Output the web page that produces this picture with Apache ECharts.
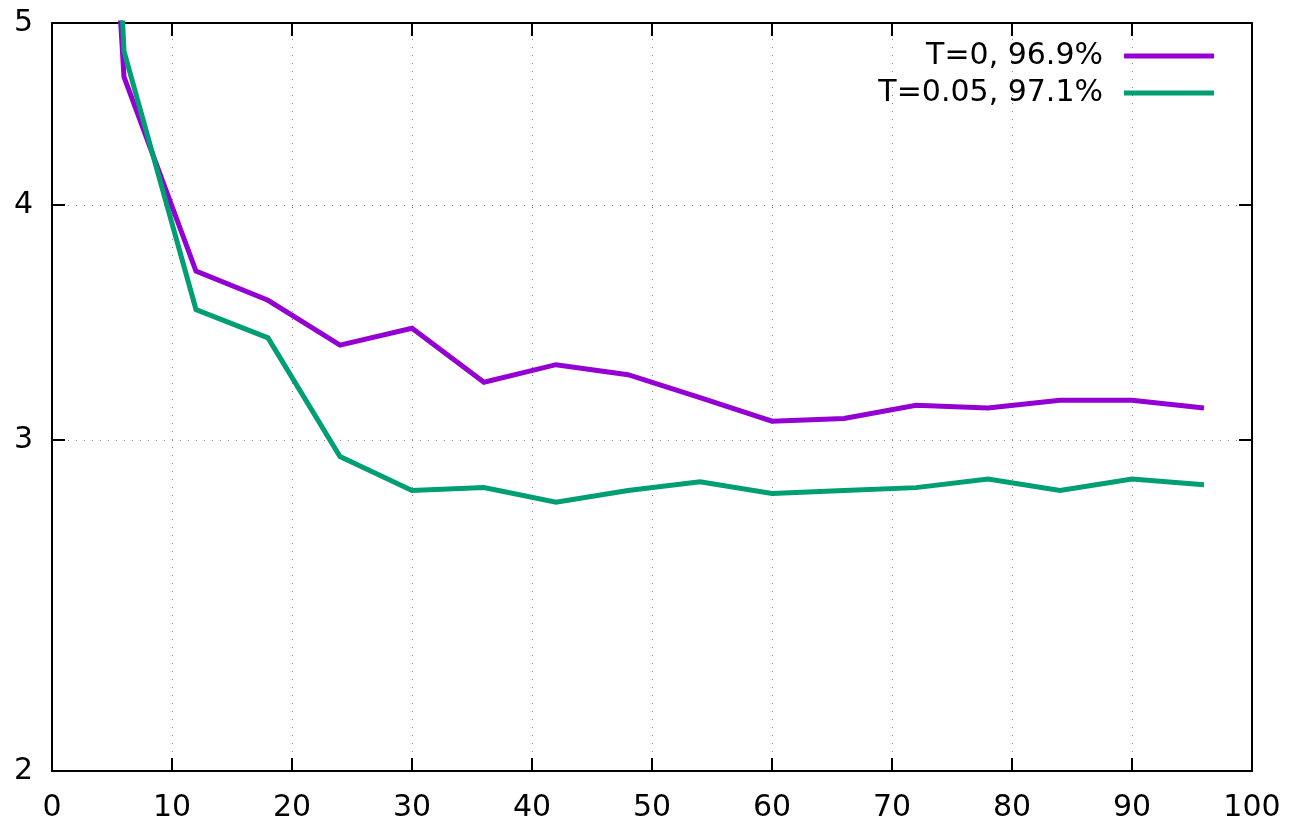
<!DOCTYPE html>
<html>
<head>
<meta charset="utf-8">
<title>Loss vs steps</title>
<script src="https://cdn.jsdelivr.net/npm/echarts@6/dist/echarts.min.js"></script>
<style>
  html, body { margin: 0; padding: 0; background: #fff; }
  #chart { width: 1289px; height: 825px; }
</style>
</head>
<body>
<div id="chart"></div>
<script>
// Sample positions along the x axis
const steps = [0, 6, 12, 18, 24, 30, 36, 42, 48, 54, 60, 66, 72, 78, 84, 90, 96];

// Values for each run (log-scaled y axis)
const lossT0 = [20, 4.68, 3.69, 3.56, 3.37, 3.44, 3.22, 3.29, 3.25, 3.16, 3.07, 3.08, 3.13, 3.12, 3.15, 3.15, 3.12];
const lossT005 = [30, 4.83, 3.52, 3.40, 2.94, 2.82, 2.83, 2.78, 2.82, 2.85, 2.81, 2.82, 2.83, 2.86, 2.82, 2.86, 2.84];

const seriesNames = ['T=0, 96.9%', 'T=0.05, 97.1%'];
const seriesColors = ['#9400d3', '#009e73'];

// Tick labels
const yTicks = [2, 3, 4, 5];
const xMin = 0, xMax = 100, xStep = 10;

const FONT = 'DejaVu Sans';
const LINE_W = 5;
const gridDots = { color: '#808080', width: 1, type: [1, 7] };
const frame = { show: true, onZero: false, lineStyle: { color: '#000', width: 2 } };
const tickIn = { show: true, inside: true, length: 13, lineStyle: { color: '#000', width: 2 } };

const chart = echarts.init(document.getElementById('chart'), null, { renderer: 'canvas' });

const pairs = (xs, ys) => xs.map((x, i) => [x, ys[i]]);

chart.setOption({
  animation: false,
  backgroundColor: '#fff',
  textStyle: { fontFamily: FONT },
  grid: { left: 52, right: 37, top: 23, bottom: 54, containLabel: false },
  legend: {
    orient: 'vertical',
    right: 75,
    top: 41,
    padding: 0,
    align: 'right',
    itemWidth: 90,
    itemHeight: LINE_W,
    itemGap: 7,
    icon: 'rect',
    textStyle: { fontFamily: FONT, fontSize: 30, color: '#000', lineHeight: 30, padding: [0, 16, 0, 0] },
    data: seriesNames
  },
  xAxis: [
    {
      type: 'value', position: 'bottom', min: xMin, max: xMax, interval: xStep,
      axisLine: frame, axisTick: tickIn,
      axisLabel: { fontFamily: FONT, fontSize: 30, color: '#000', margin: 22 },
      splitLine: { show: true, lineStyle: gridDots, showMinLine: false, showMaxLine: false }
    },
    {
      type: 'value', position: 'top', min: xMin, max: xMax, interval: xStep,
      axisLine: frame, axisTick: tickIn, axisLabel: { show: false }, splitLine: { show: false }
    }
  ],
  yAxis: [
    {
      type: 'log', logBase: 10, position: 'left', min: 2, max: 5,
      axisLine: frame,
      axisTick: Object.assign({ customValues: yTicks }, tickIn),
      axisLabel: { customValues: yTicks, fontFamily: FONT, fontSize: 30, color: '#000', margin: 19, formatter: v => String(Math.round(v)) },
      splitLine: { show: true, lineStyle: gridDots, showMinLine: false, showMaxLine: false },
      minorTick: { show: false }
    },
    {
      type: 'log', logBase: 10, position: 'right', min: 2, max: 5,
      axisLine: frame,
      axisTick: Object.assign({ customValues: yTicks }, tickIn),
      axisLabel: { show: false }, splitLine: { show: false }
    }
  ],
  series: [
    {
      name: seriesNames[0], type: 'line', xAxisIndex: 0, yAxisIndex: 0,
      data: pairs(steps, lossT0), showSymbol: false, symbol: 'none',
      color: seriesColors[0], lineStyle: { width: LINE_W, color: seriesColors[0], join: 'miter' },
      clip: true, z: 3
    },
    {
      name: seriesNames[1], type: 'line', xAxisIndex: 0, yAxisIndex: 0,
      data: pairs(steps, lossT005), showSymbol: false, symbol: 'none',
      color: seriesColors[1], lineStyle: { width: LINE_W, color: seriesColors[1], join: 'miter' },
      clip: true, z: 4
    }
  ]
});
</script>
</body>
</html>
